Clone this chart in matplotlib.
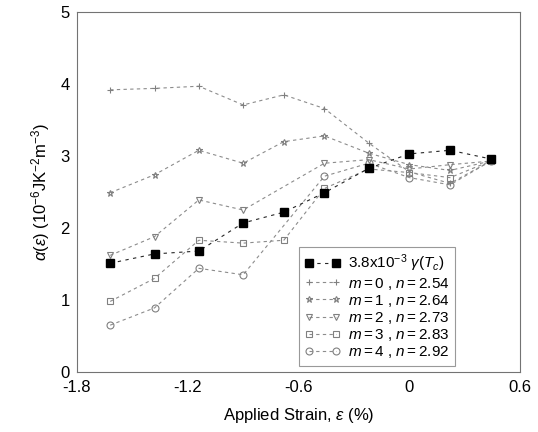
import numpy as np
import matplotlib
matplotlib.use('Agg')
import matplotlib.pyplot as plt

plt.rcParams['font.family'] = ['Liberation Sans', 'DejaVu Sans']
plt.rcParams['mathtext.fontset'] = 'custom'
plt.rcParams['mathtext.rm'] = 'Liberation Sans'
plt.rcParams['mathtext.it'] = 'Liberation Sans:italic'

# strain points (%)
strain = np.array([-1.62, -1.38, -1.14, -0.90, -0.68, -0.46, -0.22, 0.00, 0.22, 0.44])

# 3.8x10^-3 gamma(Tc)
gamma_tc = np.array([1.51, 1.64, 1.68, 2.07, 2.22, 2.49, 2.83, 3.03, 3.08, 2.96])

# alpha(eps) for m = 0..4
alpha_m0 = np.array([3.92, 3.94, 3.97, 3.71, 3.85, 3.66, 3.18, 2.78, 2.62, 2.93])
alpha_m1 = np.array([2.49, 2.74, 3.08, 2.90, 3.20, 3.28, 3.04, 2.88, 2.80, 2.93])
alpha_m2 = np.array([1.62, 1.88, 2.39, 2.25, np.nan, 2.90, 2.95, 2.82, 2.88, 2.93])
alpha_m3 = np.array([0.98, 1.30, 1.83, 1.79, 1.83, 2.55, 2.82, 2.77, 2.70, 2.93])
alpha_m4 = np.array([0.65, 0.89, 1.44, 1.35, np.nan, 2.72, 2.90, 2.70, 2.60, 2.93])

m_vals = [0, 1, 2, 3, 4]
n_vals = ['2.54', '2.64', '2.73', '2.83', '2.92']
m_series = [alpha_m0, alpha_m1, alpha_m2, alpha_m3, alpha_m4]
m_markers = ['+', '*', 'v', 's', 'o']

fig = plt.figure(figsize=(5.38, 4.32), dpi=100)
ax = fig.add_axes([0.143, 0.139, 0.824, 0.833])

# model curves
for m, n, y, mk in zip(m_vals, n_vals, m_series, m_markers):
    ok = ~np.isnan(y)
    ax.plot(strain[ok], y[ok], linestyle=(0, (3, 3)), color='0.55', lw=0.8,
            marker=mk, ms=5, mfc='none', mec='0.5', mew=0.8,
            label=r'$m=%d$ , $n=%s$' % (m, n))

# measured gamma(Tc)
ax.plot(strain, gamma_tc, linestyle=(0, (3, 4)), color='0.15', lw=0.8,
        marker='s', ms=6, mfc='black', mec='black',
        label=r'3.8x10$^{-3}$ $\gamma(T_c)$', zorder=5)

ax.set_xlim(-1.8, 0.6)
ax.set_ylim(0, 5)
ax.set_xticks([-1.8, -1.2, -0.6, 0, 0.6])
ax.set_xticklabels(['-1.8', '-1.2', '-0.6', '0', '0.6'])
ax.set_yticks([0, 1, 2, 3, 4, 5])
ax.tick_params(direction='in', length=0, labelsize=12)
ax.tick_params(axis='x', pad=6)
ax.tick_params(axis='y', pad=5)
for s in ax.spines.values():
    s.set_color('0.45')
    s.set_linewidth(0.8)

ax.set_xlabel(r'Applied Strain, $\varepsilon$ (%)', fontsize=12, labelpad=8)
ax.set_ylabel(r'$\alpha(\varepsilon)$ (10$^{-6}$JK$^{-2}$m$^{-3}$)', fontsize=12, labelpad=6)

# legend with gamma first
h, l = ax.get_legend_handles_labels()
h = [h[-1]] + h[:-1]
l = [l[-1]] + l[:-1]
leg = ax.legend(h, l, loc='lower left', bbox_to_anchor=(0.50, 0.017),
                borderaxespad=0,
                fontsize=11, numpoints=2, handlelength=2.4, labelspacing=0.08,
                handletextpad=0.5, borderpad=0.35, fancybox=False, framealpha=1)
leg.get_frame().set_edgecolor('0.6')
leg.get_frame().set_linewidth(0.8)

fig.savefig('out.png', dpi=100)
